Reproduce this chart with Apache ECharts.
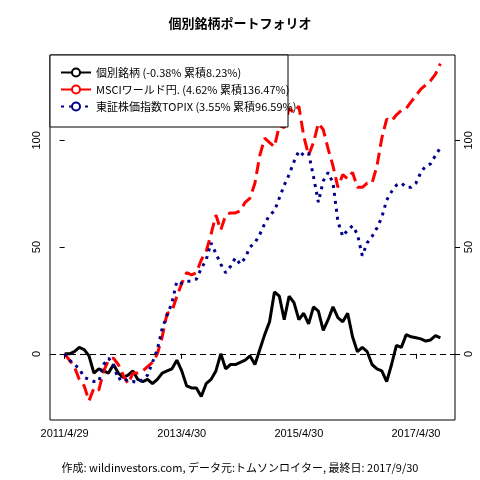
<!DOCTYPE html>
<html><head><meta charset="utf-8">
<script src="https://cdn.jsdelivr.net/npm/echarts@6/dist/echarts.min.js"></script>
<style>html,body{margin:0;padding:0;background:#fff}#c{width:480px;height:480px}</style>
</head><body><div id="c"></div>
<script>
const tickLabels = ['2011/4/29','2013/4/30','2015/4/30','2017/4/30'];
const tickIdx = [0,24,48,72];
const seriesNames = ['個別銘柄 (-0.38% 累積8.23%)','MSCIワールド円. (4.62% 累積136.47%)','東証株価指数TOPIX (3.55% 累積96.59%)'];
const stock = [0,0,1,3,2,-1,-9,-7,-8,-9,-5,-9,-11,-10,-8,-12,-13,-12,-14,-12,-9,-8,-7,-3,-8,-15,-16,-16,-20,-14,-12,-8,0,-7,-5,-5,-4,-3,-1,-5,2,9,15,29,27,16,27,24,16,19,14,22,20,11,16,22,17,15,19,8,1,3,1,-5,-7,-8,-13,-5,4,3,9,8,7.5,7,6,6.5,8.5,7.5];
const msci = [0,-3,-6,-12,-15,-22,-16,-17,-8,-3,-2,-5,-10,-14,-9,-9,-8,-6,-4,0,8,19,20,27,33,38,37,38,44,48,56,65,58,65,66,66,67,71,73,80,93,101,99,97,107,106,115,113,116,102,93,99,108,105,96,88,78,84,82,85,78,78,80,80,88,101,110,109,112,114,115,118,121,124,126,128,131,136];
const topix = [0,-3,-5,-7,-11,-12,-13,-13,-5,-2,-5,-12,-11,-13,-13,-13.5,-12,-10,-4,2,12,18,24,34,33,34,34,35,40,44,52,47,42,38,41,45,42,45,50,52,56,61,65,67,73,79,84,90,95,93,94,83,71,81,85,80,62,55,58,60,56,46,52,55,59,64,72,76,79,80,78,78,80,85,88,89,93,96.5];
const yTicks = [0,50,100];
const pair = a => a.map((v,i)=>[i,v]);
const font = 'Liberation Sans, Arial, sans-serif';
const ch = echarts.init(document.getElementById('c'));
const yAx = pos => ({type:'value',position:pos,min:-31,max:140,interval:50,
  axisLine:{show:false},splitLine:{show:false},
  axisTick:{show:true,customValues:yTicks,length:5,lineStyle:{color:'#000'}},
  axisLabel:{customValues:yTicks,rotate:90,color:'#000',fontSize:11,fontFamily:font,margin:8}});
ch.setOption({
  animation:false,
  title:{text:'個別銘柄ポートフォリオ',left:'center',top:12,textStyle:{fontSize:13,fontWeight:'bold',color:'#000',fontFamily:'Noto Sans CJK JP'}},
  grid:{left:50,right:25,top:55,bottom:60,show:true,borderColor:'#000',borderWidth:1,backgroundColor:'transparent'},
  xAxis:{type:'value',min:-3,max:80,axisLine:{show:false},splitLine:{show:false},
    axisTick:{show:true,customValues:tickIdx,length:5,lineStyle:{color:'#000'}},
    axisLabel:{customValues:tickIdx,color:'#000',fontSize:11,fontFamily:font,margin:8,
      formatter:v=>tickLabels[tickIdx.indexOf(v)]||''}},
  yAxis:[yAx('left'),yAx('right')],
  legend:{orient:'vertical',left:55,top:62,itemGap:6,itemWidth:30,itemHeight:10,z:200,zlevel:1,
    textStyle:{fontSize:11,color:'#000',fontFamily:'Noto Sans CJK JP'},data:seriesNames},
  graphic:[{type:'rect',shape:{x:50,y:55,width:238,height:72},style:{fill:'#fff',stroke:'#000',lineWidth:1},z:50},
    {type:'text',left:'center',top:462,style:{text:'作成: wildinvestors.com, データ元:トムソンロイター, 最終日: 2017/9/30',fontSize:11,fill:'#000',fontFamily:'Noto Sans CJK JP'}}],
  series:[
    {name:seriesNames[0],type:'line',data:pair(stock),showSymbol:false,z:3,lineStyle:{color:'#000',width:3},itemStyle:{color:'#000'},
     markLine:{silent:true,symbol:'none',label:{show:false},lineStyle:{color:'#000',type:[6,4],width:1},data:[{yAxis:0}]}},
    {name:seriesNames[1],type:'line',data:pair(msci),showSymbol:false,lineStyle:{color:'#f00',width:3,type:[12,6]},itemStyle:{color:'#f00'}},
    {name:seriesNames[2],type:'line',data:pair(topix),showSymbol:false,lineStyle:{color:'#00008b',width:3,type:[3,5]},itemStyle:{color:'#00008b'}}
  ]
});
</script></body></html>
